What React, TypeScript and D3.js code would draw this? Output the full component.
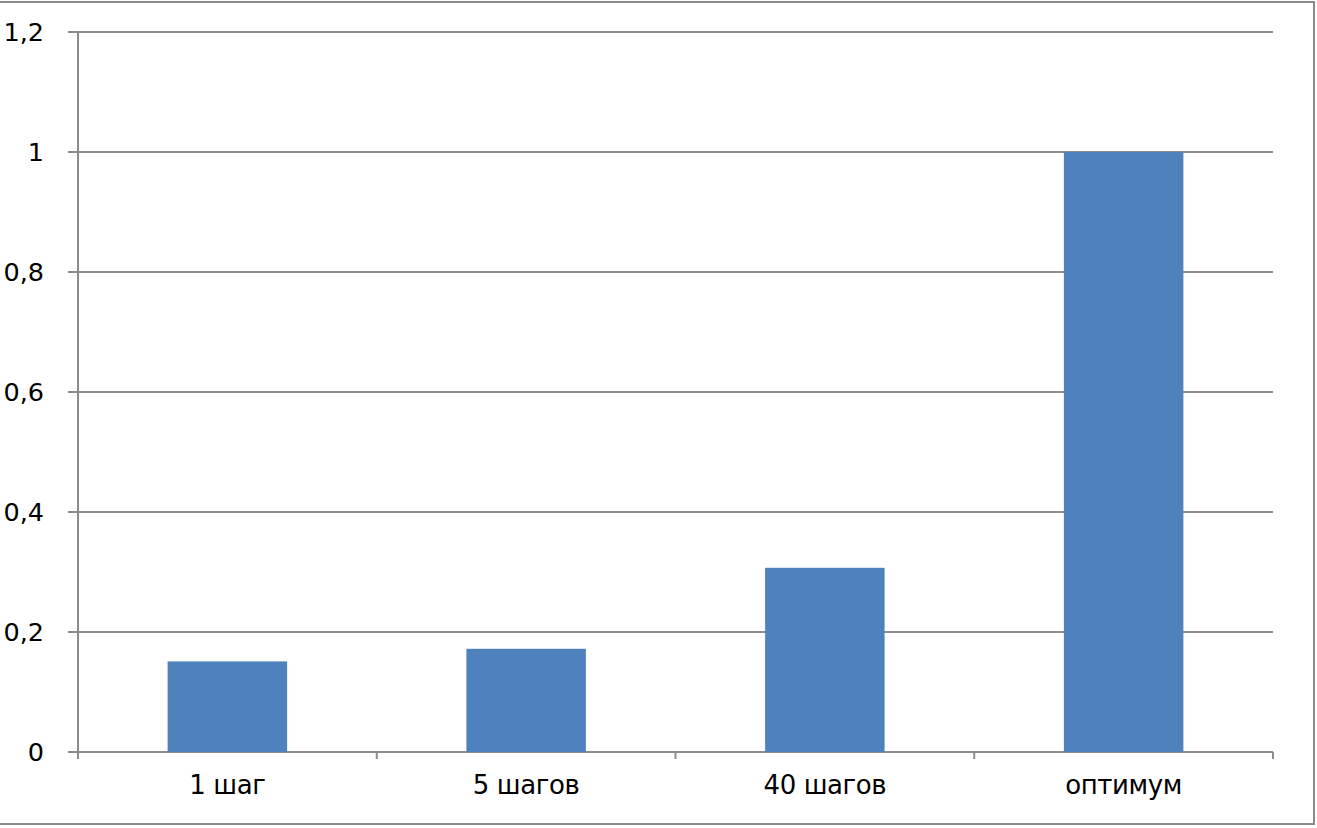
import React from "react";
import * as d3 from "d3";

const categories = ["1 шаг", "5 шагов", "40 шагов", "оптимум"];
const values = [0.151, 0.172, 0.307, 1.0];
const yTicks = [0, 0.2, 0.4, 0.6, 0.8, 1, 1.2];
const yTickLabels = ["0", "0,2", "0,4", "0,6", "0,8", "1", "1,2"];

const W = 1317;
const H = 828;
const left = 78;
const right = 1273;
const top = 32;
const bottom = 752;

export default function App() {
  const x = d3.scaleBand<string>().domain(categories).range([left, right]).paddingInner(0.6).paddingOuter(0.3);
  const xStep = (right - left) / categories.length;
  const y = d3.scaleLinear().domain([0, 1.2]).range([bottom, top]);
  const grid = "#8c8c8c";
  const font = "'DejaVu Sans', sans-serif";
  return (
    <svg width={W} height={H} style={{ position: "fixed", left: 0, top: 0, background: "#fff" }}>
      <rect x={-10} y={2} width={1324} height={822} fill="#fff" stroke="#8a8a8a" strokeWidth={2} />
      {yTicks.map((t, i) => (
        <g key={i}>
          <line x1={left - 10} x2={right} y1={y(t)} y2={y(t)} stroke={grid} strokeWidth={2} />
          <text x={44} y={y(t)} dy="0.36em" textAnchor="end" fontFamily={font} fontSize={25.5} fill="#000">
            {yTickLabels[i]}
          </text>
        </g>
      ))}
      {d3.range(categories.length + 1).map((i) => (
        <line key={i} x1={left + i * xStep} x2={left + i * xStep} y1={bottom} y2={bottom + 7} stroke={grid} strokeWidth={2} />
      ))}
      {categories.map((c, i) => (
        <rect key={c} x={x(c)} y={y(values[i])} width={x.bandwidth()} height={bottom - y(values[i])} fill="#4f81bd" />
      ))}
      <line x1={left} x2={left} y1={top} y2={bottom + 1} stroke={grid} strokeWidth={2} />
      {categories.map((c) => (
        <text key={c} x={x(c)! + x.bandwidth() / 2} y={794} textAnchor="middle" fontFamily={font} fontSize={26} letterSpacing={-0.4} fill="#000">
          {c}
        </text>
      ))}
    </svg>
  );
}
